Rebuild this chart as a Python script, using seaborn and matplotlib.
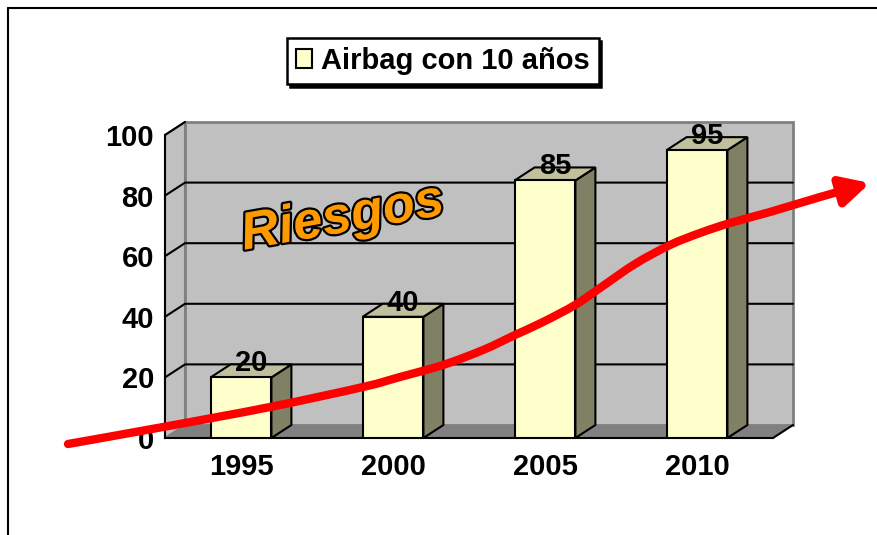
import numpy as np
import matplotlib
matplotlib.use("Agg")
import matplotlib.pyplot as plt
import seaborn as sns
import pandas as pd
from matplotlib.patches import Polygon, Rectangle, Patch, FancyArrowPatch, ArrowStyle
from matplotlib.path import Path
from matplotlib.lines import Line2D
from matplotlib import font_manager
import matplotlib.patheffects as pe

# ---------------- data ----------------
years = ["1995", "2000", "2005", "2010"]
values = [20, 40, 85, 95]
series_name = "Airbag con 10 años"
y_ticks = [0, 20, 40, 60, 80, 100]
overlay_word = "Riesgos"

# ---------------- style ----------------
W, H, DPI = 878, 535, 100
FRONT = "#FFFFCC"
SIDE = "#808064"
TOP = "#C0C09C"
WALL = "#C0C0C0"
WALL_EDGE = "#808080"
FLOOR = "#808080"

sns.set_style("white")
plt.rcParams["font.family"] = ["Liberation Sans", "DejaVu Sans"]
plt.rcParams["font.weight"] = "bold"
plt.rcParams["text.color"] = "black"
plt.rcParams["xtick.color"] = "black"
plt.rcParams["ytick.color"] = "black"
plt.rcParams["xtick.labelcolor"] = "black"
plt.rcParams["ytick.labelcolor"] = "black"

fig = plt.figure(figsize=(W / DPI, H / DPI), dpi=DPI)
fig.patch.set_facecolor("white")

# front plotting box in pixels
L, R, T, B = 165, 773, 135, 438
ax = fig.add_axes([L / W, 1 - B / H, (R - L) / W, (B - T) / H])
ax.set_facecolor("none")

df = pd.DataFrame({"year": years, "value": values})
sns.barplot(data=df, x="year", y="value", order=years, width=0.4,
            color=FRONT, saturation=1, edgecolor="black", linewidth=1.5,
            errorbar=None, ax=ax, zorder=5)

ax.set_xlim(-0.5, len(years) - 0.5)
ax.set_ylim(0, 100)
ax.set_xlabel("")
ax.set_ylabel("")

# depth offset (pixels -> data)
DX_PX, DY_PX = 20, 13
dx = DX_PX * len(years) / (R - L)
dy = DY_PX * 100 / (B - T)
x_lo, x_hi = -0.5, len(years) - 0.5

# back wall
ax.add_patch(Rectangle((x_lo + dx, dy), x_hi - x_lo, 100, facecolor=WALL,
                       edgecolor=WALL_EDGE, lw=2, clip_on=False, zorder=0.5))
# left wall
ax.add_patch(Polygon([(x_lo, 0), (x_lo + dx, dy), (x_lo + dx, 100 + dy), (x_lo, 100)],
                     closed=True, facecolor=WALL, edgecolor=WALL_EDGE, lw=1.5,
                     clip_on=False, zorder=0.6))
# floor
ax.add_patch(Polygon([(x_lo, 0), (x_hi, 0), (x_hi + dx, dy), (x_lo + dx, dy)],
                     closed=True, facecolor=FLOOR, edgecolor="none",
                     clip_on=False, zorder=0.7))
ax.plot([x_hi, x_hi + dx], [0, dy], color="black", lw=1.5, clip_on=False, zorder=0.8)

# grid lines on walls
for v in y_ticks[1:-1]:
    ax.plot([x_lo, x_lo + dx, x_hi + dx], [v, v + dy, v + dy], color="black",
            lw=1.5, clip_on=False, zorder=0.9)
ax.plot([x_lo, x_lo + dx], [100, 100 + dy], color="black", lw=1.5,
        clip_on=False, zorder=0.9)

# 3D faces of the bars
bars = [b for b in ax.patches if isinstance(b, Rectangle) and b.get_width() < 1]
for p, v in zip(bars, values):
    x0, w, h = p.get_x(), p.get_width(), p.get_height()
    ax.add_patch(Polygon([(x0 + w, 0), (x0 + w + dx, dy), (x0 + w + dx, h + dy), (x0 + w, h)],
                         closed=True, facecolor=SIDE, edgecolor="black", lw=1.5,
                         clip_on=False, zorder=4))
    ax.add_patch(Polygon([(x0, h), (x0 + w, h), (x0 + w + dx, h + dy), (x0 + dx, h + dy)],
                         closed=True, facecolor=TOP, edgecolor="black", lw=1.5,
                         clip_on=False, zorder=4))
    ax.text(x0 + w / 2 + dx / 2, h + 14 * 100 / (B - T), f"{v}", ha="center", va="center",
            fontsize=21, fontweight="bold", color="black", zorder=6, clip_on=False)

# spines and ticks
for s in ["top", "right"]:
    ax.spines[s].set_visible(False)
for s in ["left", "bottom"]:
    ax.spines[s].set_color("black")
    ax.spines[s].set_linewidth(1.5)
    ax.spines[s].set_zorder(3)
ax.set_yticks(y_ticks)
ax.set_yticklabels([str(t) for t in y_ticks], fontsize=21, fontweight="bold")
ax.set_xticks(range(len(years)))
ax.set_xticklabels(years, fontsize=21, fontweight="bold")
ax.set_xticks(np.arange(x_lo, x_hi + 0.01, 1.0), minor=True)
ax.tick_params(axis="x", which="major", length=0, pad=11)
ax.tick_params(axis="x", which="minor", length=5, width=1.5, direction="out", color="black")
ax.tick_params(axis="y", which="major", length=3, width=1.5, direction="out", color="black", pad=5)
ax.grid(False)

# legend
leg = ax.legend(handles=[Patch(facecolor=FRONT, edgecolor="black", lw=1.5)],
                labels=[series_name], loc="center",
                bbox_to_anchor=(443 / W, 1 - 61 / H), bbox_transform=fig.transFigure,
                prop={"size": 21, "weight": "bold"}, frameon=True, fancybox=False,
                shadow={"color": "black", "alpha": 1}, handlelength=0.55,
                handleheight=0.65, handletextpad=0.3, borderpad=0.3,
                borderaxespad=0)
leg.get_frame().set_edgecolor("black")
leg.get_frame().set_linewidth(1.8)
leg.set_zorder(10)
for t in leg.get_texts():
    t.set_color("black")

# WordArt-like overlay word
narrow = any(f.name == "Liberation Sans Narrow" for f in font_manager.fontManager.ttflist)
fam = ["Liberation Sans Narrow", "Liberation Sans"] if narrow else ["Liberation Sans"]
fig.text(345 / W, 1 - 232 / H, overlay_word, ha="center", va="baseline",
         rotation=10, rotation_mode="anchor", family=fam, style="italic",
         fontweight="bold", fontsize=47 if narrow else 38, color="#FF9900",
         path_effects=[pe.withStroke(linewidth=3.2, foreground="black")], zorder=20)

# red trend arrow (decoration), pixel positions
arrow_px = np.array([(68, 444), (163, 427), (270, 407), (363, 387), (400, 377),
                     (443, 365), (483, 350), (515, 335), (543, 322), (575, 305),
                     (600, 288), (635, 264), (670, 245), (700, 233), (730, 223),
                     (770, 212), (820, 197), (870, 183)], float)
pts = np.column_stack([arrow_px[:, 0] / W, 1 - arrow_px[:, 1] / H])
verts = [pts[0]]
codes = [Path.MOVETO]
for i in range(len(pts) - 1):
    p0 = pts[i - 1] if i > 0 else pts[i]
    p1, p2 = pts[i], pts[i + 1]
    p3 = pts[i + 2] if i + 2 < len(pts) else pts[i + 1]
    c1 = p1 + (p2 - p0) / 6
    c2 = p2 - (p3 - p1) / 6
    verts += [c1, c2, p2]
    codes += [Path.CURVE4] * 3
arrow = FancyArrowPatch(path=Path(verts, codes),
                        arrowstyle=ArrowStyle("-|>", head_length=1.2, head_width=0.62),
                        mutation_scale=14, color="#FF0000", lw=6,
                        transform=fig.transFigure, zorder=15)
fig.add_artist(arrow)

# outer frame
fig.add_artist(Line2D([8 / W, 8 / W], [0, 1 - 8 / H], color="black", lw=1.5,
                      transform=fig.transFigure))
fig.add_artist(Line2D([8 / W, 1], [1 - 8 / H, 1 - 8 / H], color="black", lw=1.5,
                      transform=fig.transFigure))

fig.savefig("out.png", dpi=DPI)
